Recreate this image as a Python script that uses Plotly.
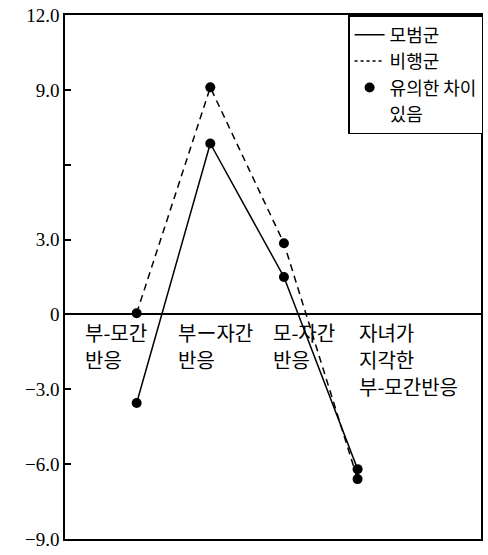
import plotly.graph_objects as go

# categories (x index) and their label lines
categories = ['부-모간 반응', '부-자간 반응', '모-자간 반응', '자녀가 지각한 부-모간반응']
category_label_lines = [
    ['부-모간', '반응'],
    ['부ー자간', '반응'],
    ['모-자간', '반응'],
    ['자녀가', '지각한', '부-모간반응'],
]

# series values
model_group = [-3.55, 6.85, 1.5, -6.2]      # 모범군 (solid)
delinquent_group = [0.05, 9.1, 2.85, -6.6]  # 비행군 (dashed)

y_tickvals = [12, 9, 6, 3, 0, -3, -6, -9]
y_ticktext = ['12.0', '9.0', '', '3.0', '0', '−3.0', '−6.0', '−9.0']

x_idx = list(range(len(categories)))

KR_FONT = "Noto Sans CJK KR"
NUM_FONT = "Liberation Serif"

fig = go.Figure()

# data traces (legend drawn with separate entries below)
fig.add_trace(go.Scatter(
    x=x_idx, y=model_group, mode='lines+markers',
    line=dict(color='black', width=1.5),
    marker=dict(color='black', size=10),
    showlegend=False, name='모범군'
))
fig.add_trace(go.Scatter(
    x=x_idx, y=delinquent_group, mode='lines+markers',
    line=dict(color='black', width=1.5, dash='7px,5px'),
    marker=dict(color='black', size=10),
    showlegend=False, name='비행군'
))

# legend entries
fig.add_trace(go.Scatter(
    x=[None], y=[None], mode='lines',
    line=dict(color='black', width=1.5), name='모범군'
))
fig.add_trace(go.Scatter(
    x=[None], y=[None], mode='lines',
    line=dict(color='black', width=1.5, dash='dot'), name='비행군'
))
fig.add_trace(go.Scatter(
    x=[None], y=[None], mode='markers',
    marker=dict(color='black', size=10), name='유의한 차이'
))
# second line of the last legend entry, no symbol
fig.add_trace(go.Scatter(
    x=[None], y=[None], mode='markers',
    marker=dict(color='rgba(0,0,0,0)', size=1), name='있음'
))

# category labels under the zero line, left aligned, one annotation per line
label_x = [-0.73, 0.54, 1.82, 2.99]
for lx, lines in zip(label_x, category_label_lines):
    for i, txt in enumerate(lines):
        fig.add_annotation(
            x=lx, y=0, xref='x', yref='y', text=txt, showarrow=False,
            xanchor='left', yanchor='middle', yshift=-18 - 27 * i,
            font=dict(family=KR_FONT, size=20, color='black')
        )

fig.update_layout(
    width=488, height=555,
    paper_bgcolor='white', plot_bgcolor='white',
    margin=dict(l=65, r=5, t=10, b=8),
    legend=dict(
        x=1.005, y=1, xanchor='right', yanchor='top',
        bgcolor='white', bordercolor='black', borderwidth=1.5,
        font=dict(family=KR_FONT, size=18, color='black'),
        tracegroupgap=0
    )
)

fig.update_xaxes(
    range=[-0.973, 4.676], showticklabels=False, ticks='',
    showgrid=False, zeroline=False,
    showline=True, linecolor='black', linewidth=1.5, mirror=True
)
fig.update_yaxes(
    range=[-9, 12], tickvals=y_tickvals, ticktext=y_ticktext,
    ticks='inside', ticklen=6, tickcolor='black', tickwidth=1.5,
    tickfont=dict(family=NUM_FONT, size=19, color='black'),
    ticklabeloverflow='allow',
    showgrid=False, zeroline=True, zerolinecolor='black', zerolinewidth=1.5,
    showline=True, linecolor='black', linewidth=1.5, mirror=True
)

# drop the default page margin so the figure sits at the window's corner
fig.write_html(
    "out.html",
    config={'displayModeBar': False},
    post_script="document.body.style.margin='0';"
)
